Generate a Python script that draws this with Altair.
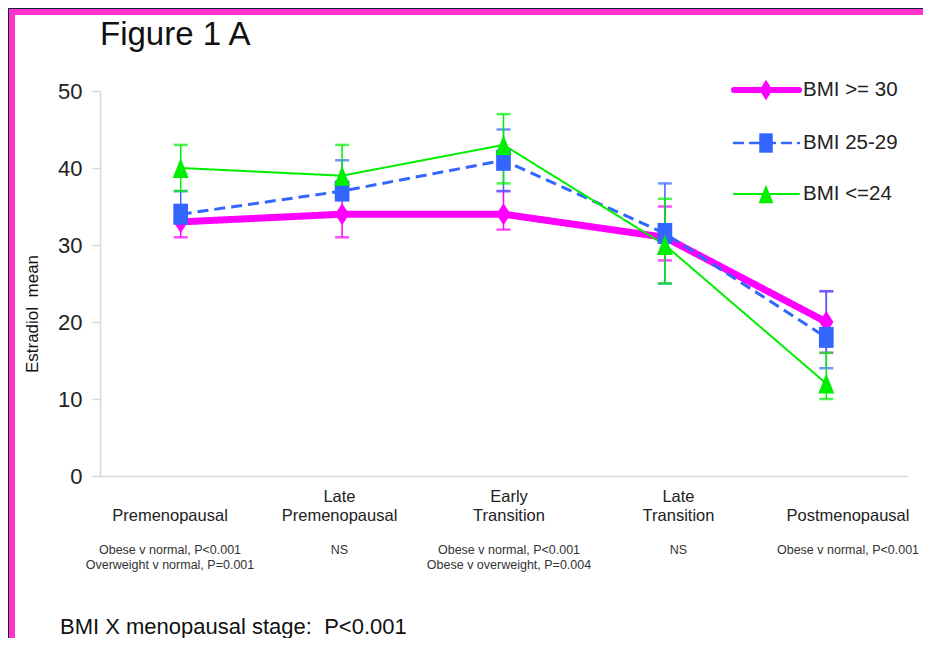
import altair as alt
import pandas as pd

# ---------------- data ----------------
stages = ["Premenopausal", "Late Premenopausal", "Early Transition",
          "Late Transition", "Postmenopausal"]
stage_upper = ["", "Late", "Early", "Late", ""]
stage_lower = ["Premenopausal", "Premenopausal", "Transition", "Transition", "Postmenopausal"]
stats_lines = [["Obese v normal, P<0.001", "Overweight v normal, P=0.001"],
               ["NS"],
               ["Obese v normal, P<0.001", "Obese v overweight, P=0.004"],
               ["NS"],
               ["Obese v normal, P<0.001"]]

series = ["BMI >= 30", "BMI 25-29", "BMI <=24"]
obese_mean = [33, 34, 34, 31, 20]
obese_lo = [31, 31, 32, 28, 16]
obese_hi = [35, 37, 37, 35, 24]
over_mean = [34, 37, 41, 31.5, 18]
over_lo = [33, 36, 37, 25, 14]
over_hi = [37, 41, 45, 38, 24]
normal_mean = [40, 39, 43, 30, 12]
normal_lo = [37, 37, 38, 25, 10]
normal_hi = [43, 43, 47, 36, 16]

y_ticks = [0, 10, 20, 30, 40, 50]

# ---------------- styles ----------------
W, H = 807, 385
SANS = "Liberation Sans, Arial, Helvetica, sans-serif"
PINK, BLUE, GREEN = "#ff00ff", "#3366ff", "#00ee00"
DIAMOND = "M0,-1L0.65,0L0,1L-0.65,0Z"
SQUARE = "M-0.7,-1L0.7,-1L0.7,1L-0.7,1Z"
TRIANGLE = "M0,-1L0.8,1L-0.8,1Z"

styles = [
    dict(color=PINK, width=7, dash=[1, 0], shape=DIAMOND, size=484, lw=6, ldash=[1, 0]),
    dict(color=BLUE, width=3, dash=[11, 6], shape=SQUARE, size=441, lw=2.5, ldash=[9, 7]),
    dict(color=GREEN, width=2, dash=[1, 0], shape=TRIANGLE, size=400, lw=2, ldash=[1, 0]),
]
means = [obese_mean, over_mean, normal_mean]
los = [obese_lo, over_lo, normal_lo]
his = [obese_hi, over_hi, normal_hi]

frames = [pd.DataFrame({"stage": stages, "series": s, "value": m, "lo": lo, "hi": hi})
          for s, m, lo, hi in zip(series, means, los, his)]

x_enc = alt.X("stage:N", sort=stages,
              scale=alt.Scale(type="point", domain=stages, padding=0.5),
              axis=alt.Axis(labels=False, ticks=False, title=None, grid=False,
                            domainColor="#d9d9d9", domainWidth=1.5, zindex=1))
y_scale = alt.Scale(domain=[0, 50], nice=False, zero=True)
y_axis = alt.Axis(values=y_ticks, title=None, grid=False, tickColor="#d9d9d9",
                  tickSize=8, tickWidth=1.5, labelPadding=10, labelFontSize=22,
                  labelFont=SANS, labelColor="#222222", domainColor="#d9d9d9",
                  domainWidth=1.5, zindex=1)

one = pd.DataFrame({"k": [0]})

# decorative slide panel (white with magenta frame)
panel = alt.Chart(one).mark_rect(fill="white", stroke="#ff33cc", strokeWidth=6).encode(
    x=alt.value(-88), x2=alt.value(W + 120), y=alt.value(-79), y2=alt.value(H + 250))

data_layers = [panel]

# error bars
for f, st in zip(frames, styles):
    base = alt.Chart(f)
    data_layers.append(base.mark_rule(color=st["color"], strokeWidth=1.5).encode(
        x=x_enc, y=alt.Y("lo:Q", scale=y_scale, axis=y_axis), y2="hi:Q"))
    for fld in ["lo", "hi"]:
        data_layers.append(base.mark_tick(color=st["color"], size=14, thickness=2.5,
                                          orient="horizontal").encode(
            x=x_enc, y=alt.Y(f"{fld}:Q", scale=y_scale, axis=y_axis)))

# lines
for f, st in zip(frames, styles):
    data_layers.append(alt.Chart(f).mark_line(color=st["color"], strokeWidth=st["width"],
                                              strokeDash=st["dash"]).encode(
        x=x_enc, y=alt.Y("value:Q", scale=y_scale, axis=y_axis)))

# points
for f, st in zip(frames, styles):
    data_layers.append(alt.Chart(f).mark_point(shape=st["shape"], size=st["size"],
                                               filled=True, color=st["color"],
                                               opacity=1).encode(
        x=x_enc, y=alt.Y("value:Q", scale=y_scale, axis=y_axis)))

# legend
legend_y = [-1, 52, 103]
for s, st, ly in zip(series, styles, legend_y):
    d = pd.DataFrame({"series": [s]})
    data_layers.append(alt.Chart(d).mark_rule(color=st["color"], strokeWidth=st["lw"],
                                              strokeDash=st["ldash"],
                                              strokeCap="round").encode(
        x=alt.value(634), x2=alt.value(699), y=alt.value(ly)))
    data_layers.append(alt.Chart(d).mark_point(shape=st["shape"], size=st["size"] * 0.85,
                                               filled=True, color=st["color"],
                                               opacity=1).encode(
        x=alt.value(666), y=alt.value(ly)))
    data_layers.append(alt.Chart(d).mark_text(font=SANS, fontSize=20.5, color="#222222",
                                              align="left", baseline="middle").encode(
        x=alt.value(703), y=alt.value(ly), text="series:N"))

# titles
data_layers.append(alt.Chart(pd.DataFrame({"t": ["Figure 1 A"]}))
                   .mark_text(font=SANS, fontSize=33, color="#111111",
                              align="left", baseline="middle").encode(
    x=alt.value(0), y=alt.value(-56), text="t:N"))
data_layers.append(alt.Chart(pd.DataFrame({"t": ["Estradiol\u00a0 mean"]}))
                   .mark_text(font=SANS, fontSize=17, color="#111111", angle=270,
                              align="center", baseline="middle").encode(
    x=alt.value(-67), y=alt.value(223), text="t:N"))
data_layers.append(alt.Chart(pd.DataFrame({"t": ["BMI X menopausal stage:\u00a0 P<0.001"]}))
                   .mark_text(font=SANS, fontSize=22, color="#111111",
                              align="left", baseline="middle").encode(
    x=alt.value(-40), y=alt.value(536), text="t:N"))

main = alt.layer(*data_layers)

# category labels and statistics: a row of their own across the slide
lab_df = pd.DataFrame({"stage": stages, "upper": stage_upper, "lower": stage_lower,
                       "stats": stats_lines})
lab_x = alt.X("stage:N", sort=stages,
              scale=alt.Scale(type="point", domain=stages, padding=0, range=[70, 748]),
              axis=None)
labels = alt.layer(
    alt.Chart(lab_df).mark_text(font=SANS, fontSize=16.5, color="#222222",
                                align="center", baseline="middle").encode(
        x=lab_x, y=alt.value(406), text="upper:N"),
    alt.Chart(lab_df).mark_text(font=SANS, fontSize=16.5, color="#222222",
                                align="center", baseline="middle").encode(
        x=lab_x, y=alt.value(425), text="lower:N"),
    alt.Chart(lab_df).mark_text(font=SANS, fontSize=12.5, color="#333333",
                                align="center", baseline="top", lineHeight=15).encode(
        x=lab_x, y=alt.value(453), text="stats"),
)

chart = alt.layer(main, labels).resolve_scale(x="independent").properties(
    width=W, height=H,
    autosize=alt.AutoSizeParams(type="none"),
    padding={"left": 92, "top": 83, "right": 16, "bottom": 162},
    background="#132339",
).configure_view(stroke=None)

chart.save("out.html", embed_options={"renderer": "svg", "actions": False})
